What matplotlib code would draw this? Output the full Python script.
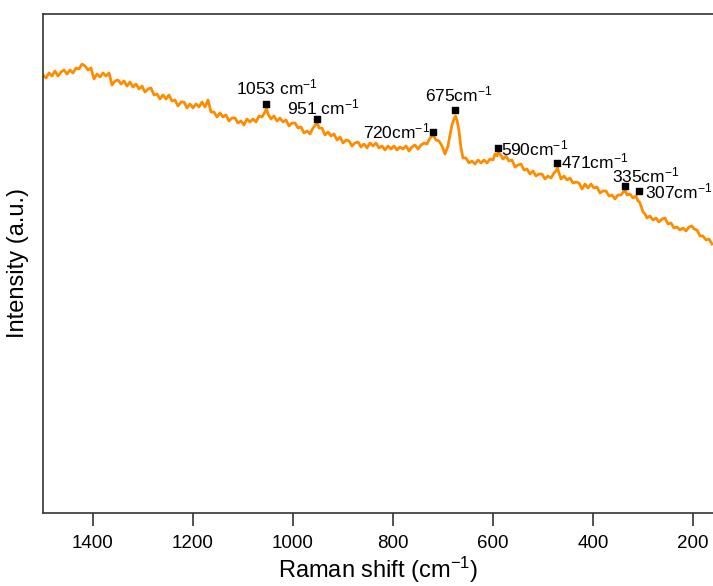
import numpy as np
import matplotlib
matplotlib.use("Agg")
import matplotlib.pyplot as plt

plt.rcParams['font.family'] = ['Liberation Sans', 'DejaVu Sans']
plt.rcParams['mathtext.fontset'] = 'custom'
plt.rcParams['mathtext.rm'] = 'Liberation Sans'
plt.rcParams['mathtext.it'] = 'Liberation Sans'

# Raman spectrum (wavenumber in cm-1, intensity a.u.)
shift = [1500, 1494, 1488, 1482, 1476, 1470, 1464, 1458, 1452, 1446,
         1440, 1434, 1428, 1422, 1416, 1410, 1404, 1398, 1392, 1386,
         1380, 1374, 1368, 1362, 1356, 1350, 1344, 1338, 1332, 1326,
         1320, 1314, 1308, 1302, 1296, 1290, 1284, 1278, 1272, 1266,
         1260, 1254, 1248, 1242, 1236, 1230, 1224, 1218, 1212, 1206,
         1200, 1194, 1188, 1182, 1176, 1170, 1164, 1158, 1152, 1146,
         1140, 1134, 1128, 1122, 1116, 1110, 1104, 1098, 1092, 1086,
         1080, 1074, 1068, 1062, 1056, 1053, 1050, 1044, 1038, 1032,
         1026, 1020, 1014, 1008, 1002, 996, 990, 984, 978, 972,
         966, 960, 954, 951, 948, 942, 936, 930, 924, 918,
         912, 906, 900, 894, 888, 882, 876, 870, 864, 858,
         852, 846, 840, 834, 828, 822, 816, 810, 804, 798,
         792, 786, 780, 774, 768, 762, 756, 750, 744, 738,
         732, 726, 720, 714, 708, 702, 696, 690, 686, 682,
         678, 675, 672, 668, 664, 660, 654, 648, 642, 636,
         630, 624, 618, 612, 606, 600, 596, 592, 590, 586,
         580, 574, 568, 562, 556, 550, 544, 538, 532, 526,
         520, 514, 508, 502, 496, 490, 484, 478, 474, 471,
         468, 464, 458, 452, 446, 440, 434, 428, 422, 416,
         410, 404, 398, 392, 386, 380, 374, 368, 362, 356,
         350, 344, 338, 335, 332, 326, 320, 314, 310, 307,
         304, 300, 296, 292, 286, 280, 274, 268, 262, 256,
         250, 244, 238, 232, 226, 220, 214, 208, 202, 198,
         192, 186, 180, 174, 168, 162]
intensity = [438, 435, 440, 437, 442, 437, 441, 443, 439, 443,
             440, 445, 444, 449, 447, 443, 445, 434, 439, 436,
             440, 437, 440, 428, 432, 433, 429, 432, 427, 431,
             426, 429, 424, 427, 421, 424, 425, 418, 419, 414,
             418, 414, 418, 412, 413, 407, 411, 411, 405, 409,
             405, 409, 406, 411, 406, 413, 401, 401, 396, 400,
             396, 398, 392, 395, 395, 390, 392, 388, 394, 391,
             394, 391, 397, 396, 401, 405, 399, 394, 397, 392,
             395, 391, 393, 387, 390, 390, 385, 386, 380, 382,
             379, 385, 389, 390, 385, 385, 378, 381, 377, 379,
             373, 376, 370, 373, 372, 367, 370, 371, 366, 369,
             365, 370, 367, 370, 365, 367, 363, 367, 364, 367,
             363, 366, 364, 367, 362, 366, 368, 364, 368, 370,
             369, 375, 378, 373, 372, 367, 359, 367, 378, 388,
             394, 397, 393, 382, 365, 355, 355, 350, 352, 349,
             353, 350, 353, 350, 354, 353, 359, 357, 360, 359,
             354, 357, 352, 353, 346, 348, 349, 343, 344, 339,
             342, 337, 339, 339, 334, 337, 335, 340, 342, 345,
             340, 334, 337, 333, 335, 330, 331, 330, 324, 329,
             325, 329, 325, 326, 320, 322, 322, 317, 318, 314,
             318, 318, 322, 322, 318, 319, 315, 317, 312, 311,
             307, 301, 299, 295, 297, 293, 295, 291, 294, 295,
             289, 290, 285, 286, 283, 285, 282, 286, 287, 284,
             283, 277, 277, 273, 274, 269]

peak_pos = [1053, 951, 720, 675, 590, 471, 335, 307]
peak_mark = [409, 394, 381, 403, 365, 350, 327, 322]
peak_text = ['1053 cm$^{-1}$', '951 cm$^{-1}$', '720cm$^{-1}$', '675cm$^{-1}$',
             '590cm$^{-1}$', '471cm$^{-1}$', '335cm$^{-1}$', '307cm$^{-1}$']
# label anchor (x, y) in data units and alignment
label_xy = [(1114, 426), (1012, 406), (726, 382), (736, 419),
            (583, 365), (463, 352), (361, 338), (295, 322)]
label_ha = ['left', 'left', 'right', 'left', 'left', 'left', 'left', 'left']

fig = plt.figure(figsize=(7.13, 5.86), dpi=100)
ax = fig.add_axes([43 / 713, 73 / 586, 670 / 713, 499 / 586])

ax.plot(shift, intensity, color='#FF8C00', linewidth=2)
ax.scatter(peak_pos, peak_mark, marker='s', s=16, color='black', zorder=3)
for t, (lx, ly), ha in zip(peak_text, label_xy, label_ha):
    ax.text(lx, ly, t, fontsize=12.5, ha=ha, va='center')

ax.set_xlim(1500, 160)
ax.set_ylim(0, 499)
ax.set_xticks([1400, 1200, 1000, 800, 600, 400, 200])
ax.set_yticks([])
ax.tick_params(axis='x', direction='out', length=9, width=1.2,
               labelsize=13.5, pad=7, color='#333333')
for s in ['left', 'top', 'bottom']:
    ax.spines[s].set_linewidth(1.2)
    ax.spines[s].set_color('#333333')
ax.spines['right'].set_visible(False)

ax.set_xlabel('Raman shift (cm$^{-1}$)', fontsize=17, labelpad=2)
ax.set_ylabel('Intensity (a.u.)', fontsize=17, labelpad=10)

fig.savefig('out.png', dpi=100)
